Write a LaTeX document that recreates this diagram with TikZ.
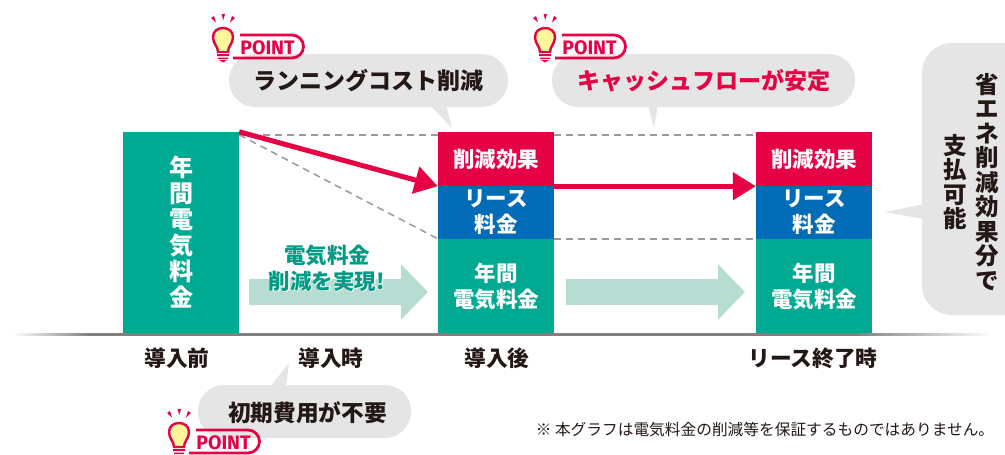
\documentclass[tikz,border=0pt]{standalone}
\usepackage{fontspec}
\setmainfont{Noto Sans CJK JP}
\newfontfamily\pointfont{Fira Sans}
\usetikzlibrary{arrows.meta}
\definecolor{barteal}{HTML}{00A992}
\definecolor{barred}{HTML}{E60044}
\definecolor{barblue}{HTML}{006CB8}
\definecolor{palegreen}{HTML}{B7DDD2}
\definecolor{bubblegray}{HTML}{E5E5E5}
\definecolor{inkdark}{HTML}{231815}
\definecolor{inkteal}{HTML}{009B85}
\definecolor{bulbyellow}{HTML}{FFF799}
\pgfdeclarehorizontalshading{baseshade}{100bp}{color(0bp)=(white); color(25bp)=(white); color(29bp)=(black!50); color(68bp)=(black!50); color(75bp)=(white); color(100bp)=(white)}
\newcommand{\halotext}[1]{\rlap{\textcolor{white}{\addfontfeature{FakeBold=4}#1}}#1}
\begin{document}
\begin{tikzpicture}[
  x=1pt, y=-1pt,
  bar/.style={rectangle, inner sep=0pt, minimum width=116pt, text=white, align=center, font=\fontsize{21.5}{26}\selectfont\bfseries},
  bubble/.style={rectangle, fill=bubblegray, rounded corners=26pt, minimum height=53pt, inner sep=0pt, font=\fontsize{23}{26}\selectfont\bfseries},
  stem/.style={fill=bubblegray},
  axislabel/.style={inner sep=0pt, text=inkdark, font=\fontsize{21.7}{24}\selectfont\bfseries},
  vlabel/.style={inner sep=0pt, align=center, text=inkdark, font=\fontsize{23.5}{24.5}\selectfont\bfseries},
  guide/.style={draw=black!40, line width=1.5pt, dash pattern=on 7pt off 5pt},
  gain/.style={barred, line width=5pt, -{Triangle[length=23pt, width=27pt]}},
  flow/.style={palegreen, line width=26pt, -{Triangle[length=27pt, width=54pt]}},
  pointmark/.pic={
    \draw[barred, line width=2.4pt, fill=bulbyellow] (-5,14) .. controls (-5,8) and (-10,6) .. (-10,-1) .. controls (-10,-7) and (-5,-10) .. (0,-10) .. controls (5,-10) and (10,-7) .. (10,-1) .. controls (10,6) and (5,8) .. (5,14) -- cycle;
    \fill[barred] (-6,16) rectangle (6,18) (-5,19.5) rectangle (5,21) (-4,22) -- (4,22) -- (0,24.5) -- cycle;
    \fill[barred] (-1.5,-24) -- (2,-24) -- (0.3,-18) -- cycle (-12,-20) -- (-9,-22) -- (-7,-15.5) -- cycle (12,-20) -- (9,-22) -- (7,-15.5) -- cycle;
    \draw[barred, line width=2.8pt] (17,-3) -- (69,-3) arc[start angle=90, end angle=-90, radius=11.5pt] -- (10,20);
    \node[inner sep=0pt, text=barred, font=\fontsize{19.5}{19.5}\pointfont\bfseries] (-label) at (44.5,10) {POINT};
  }
]
\useasboundingbox (0,0) rectangle (1005,455);

% Base line
\shade[shading=baseshade] (12,333) rectangle (992,335.5);

% Bars
\node[bar, fill=barteal, minimum height=201pt, font=\fontsize{24}{26}\selectfont\bfseries] (before) at (181,232.5) {年\\間\\電\\気\\料\\金};

\node[bar, fill=barred, minimum height=54pt] (cutA) at (496,159) {削減効果};
\node[bar, fill=barblue, minimum height=53pt] (leaseA) at (496,212.5) {リース\\料金};
\node[bar, fill=barteal, minimum height=94pt] (billA) at (496,286) {年間\\電気料金};

\node[bar, fill=barred, minimum height=54pt] (cutB) at (814,159) {削減効果};
\node[bar, fill=barblue, minimum height=53pt] (leaseB) at (814,212.5) {リース\\料金};
\node[bar, fill=barteal, minimum height=94pt] (billB) at (814,286) {年間\\電気料金};

% Guides
\draw[guide] ([yshift=-3pt]before.north east) -- ([yshift=-3pt]cutA.north west);
\draw[guide] ([yshift=-3pt]before.north east) -- (billA.north west);
\draw[guide] ([yshift=-3pt]cutA.north east) -- ([yshift=-3pt]cutB.north west);
\draw[guide] (billA.north east) -- (billB.north west);

% Pale arrows
\coordinate (flowAs) at (249,292);
\coordinate (flowAe) at (428,292);
\coordinate (flowBs) at (566,292);
\coordinate (flowBe) at (745,292);
\draw[flow] (flowAs) -- (flowAe);
\draw[flow] (flowBs) -- (flowBe);
\node[inner sep=0pt, align=center, text=inkteal, font=\fontsize{21.5}{26}\selectfont\bfseries] (gaintext) at (327,268) {\halotext{電気料金}\\\halotext{削減を実現!}};

% Red arrows
\draw[gain] (before.north east) -- (cutA.south west);
\draw[gain] (cutA.south east) -- (cutB.south west);

% Bubbles
\fill[stem] (430,105) -- (452,128) -- (446,105) -- cycle;
\node[bubble, minimum width=279pt, text=inkdark] (running) at (368.5,80.5) {ランニングコスト削減};

\fill[stem] (648,105) -- (654,128) -- (658,105) -- cycle;
\node[bubble, minimum width=303pt, text=barred] (cash) at (703.5,80.5) {キャッシュフローが安定};

\fill[stem] (270,387) -- (289,363) -- (286,387) -- cycle;
\node[bubble, minimum width=213pt, text=inkdark] (initial) at (304.5,411.5) {};
\node[inner sep=0pt, text=inkdark, font=\fontsize{22.7}{26}\selectfont\bfseries] (initialtext) at (307.5,413) {初期費用が不要};

\fill[stem] (924,204) -- (885,212) -- (924,219) -- cycle;
\fill[bubblegray] (1005,43) -- (952,43) arc[start angle=90, end angle=180, radius=30pt] -- (922,285) arc[start angle=180, end angle=270, radius=30pt] -- (1005,315) -- cycle;
\node[vlabel] (saving) at (987,182) {省\\エ\\ネ\\削\\減\\効\\果\\分\\で};
\node[vlabel] (payable) at (955,182) {支\\払\\可\\能};

% Axis labels
\node[axislabel] (lblbefore) at (177,358) {導入前};
\node[axislabel] (lblstart) at (331,358) {導入時};
\node[axislabel] (lblafter) at (497,358) {導入後};
\node[axislabel] (lblend) at (813,358) {リース終了時};

% Note
\node[inner sep=0pt, text=inkdark, font=\fontsize{15.7}{18}\selectfont] (note) at (765,430) {※ 本グラフは電気料金の削減等を保証するものではありません。};

% Point marks
\pic (pointA) at (223,38) {pointmark};
\pic (pointB) at (545,38) {pointmark};
\pic (pointC) at (179,433) {pointmark};

\end{tikzpicture}
\end{document}
